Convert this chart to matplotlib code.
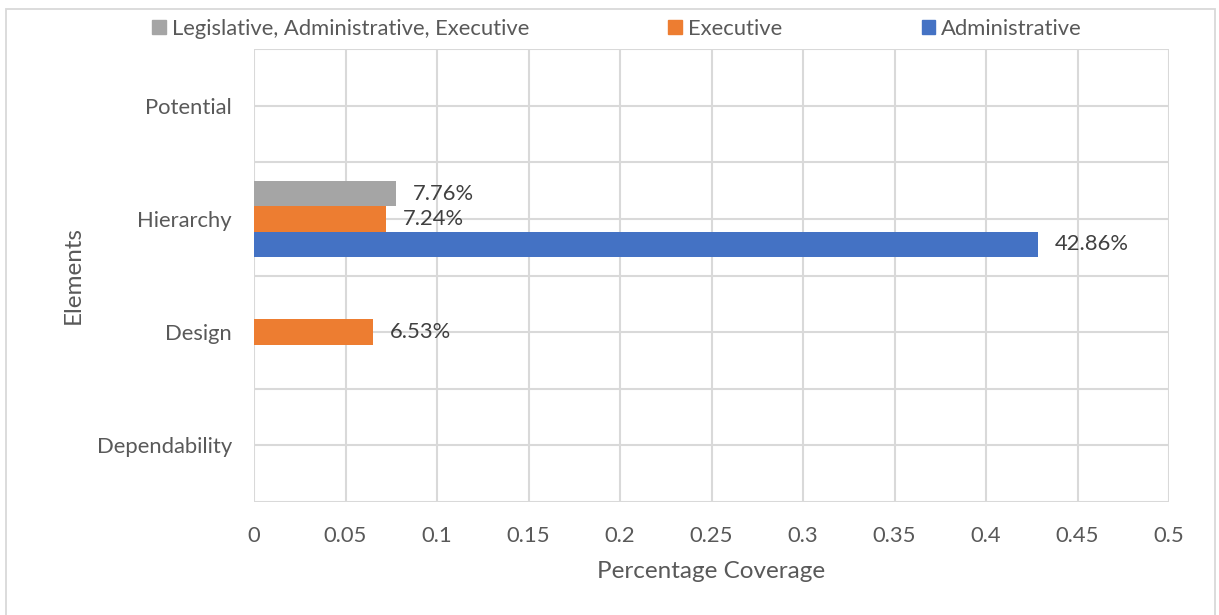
import matplotlib
matplotlib.use("Agg")
import matplotlib.pyplot as plt
from matplotlib.patches import Patch, Rectangle

plt.rcParams["font.family"] = ["Lato", "DejaVu Sans"]

elements = ["Dependability", "Design", "Hierarchy", "Potential"]
administrative = [0, 0, 0.4286, 0]
executive = [0, 0.0653, 0.0724, 0]
leg_admin_exec = [0, 0, 0.0776, 0]
x_ticks = [0, 0.05, 0.1, 0.15, 0.2, 0.25, 0.3, 0.35, 0.4, 0.45, 0.5]
x_tick_labels = ["0", "0.05", "0.1", "0.15", "0.2", "0.25", "0.3", "0.35", "0.4", "0.45", "0.5"]

C_ADMIN = "#4472C4"
C_EXEC = "#ED7D31"
C_LEG = "#A5A5A5"
TXT = "#595959"
GRID = "#D9D9D9"
FS = 15.8

W, H = 1219, 615
fig = plt.figure(figsize=(W / 100, H / 100), dpi=100)
ax = fig.add_axes([254 / W, (H - 502) / H, 915 / W, 453 / H])

# outer chart frame
fig.patches.append(Rectangle((6 / W, -0.05), 1209 / W, 1.05 - 9 / H, transform=fig.transFigure,
                             fill=False, edgecolor=GRID, lw=1.3))

bh = 0.223
ypos = list(range(len(elements)))
series = [(administrative, C_ADMIN, -bh, "Administrative"),
          (executive, C_EXEC, 0.0, "Executive"),
          (leg_admin_exec, C_LEG, bh, "Legislative, Administrative, Executive")]
for vals, col, off, name in series:
    ys = [y + off for y in ypos]
    bars = ax.barh(ys, vals, height=bh, color=col, edgecolor="none", zorder=3, label=name)
    for b, v in zip(bars, vals):
        if v > 0:
            ax.text(v + 0.009, b.get_y() + bh / 2, f"{v * 100:.2f}%", va="center", ha="left",
                    fontsize=FS, color="#404040", zorder=4)

ax.set_xlim(0, 0.5)
ax.set_ylim(-0.5, 3.5)
ax.set_xticks(x_ticks)
ax.set_xticklabels(x_tick_labels)
ax.set_yticks(ypos)
ax.set_yticklabels(elements)
ax.grid(True, axis="x", color=GRID, lw=1.5, zorder=0)
# horizontal lines every half category
for i in range(9):
    ax.axhline(i * 0.5 - 0.5, color=GRID, lw=1.5, zorder=0)
ax.tick_params(which="both", length=0, colors=TXT, labelsize=FS)
ax.tick_params(axis="x", pad=17)
ax.tick_params(axis="y", pad=16)
for s in ax.spines.values():
    s.set_visible(False)

ax.set_xlabel("Percentage Coverage", fontsize=17.5, color=TXT)
ax.xaxis.set_label_coords(0.5, (502 - 572) / 453)
ax.xaxis.label.set_va("center")
ax.set_ylabel("Elements", fontsize=17.5, color=TXT)
ax.yaxis.set_label_coords((73 - 254) / 915, 0.5)
ax.yaxis.label.set_va("center")

handles = [Patch(color=C_LEG, label="Legislative, Administrative, Executive"),
           Patch(color=C_EXEC, label="Executive"),
           Patch(color=C_ADMIN, label="Administrative")]
leg = fig.legend(handles=handles, loc="center", bbox_to_anchor=(617 / W, 1 - 29 / H), ncol=3,
                 frameon=False, fontsize=FS, handlelength=0.63, handleheight=0.63,
                 handletextpad=0.27, columnspacing=6.35, borderpad=0)
for t in leg.get_texts():
    t.set_color(TXT)

fig.savefig("out.png", dpi=100)
